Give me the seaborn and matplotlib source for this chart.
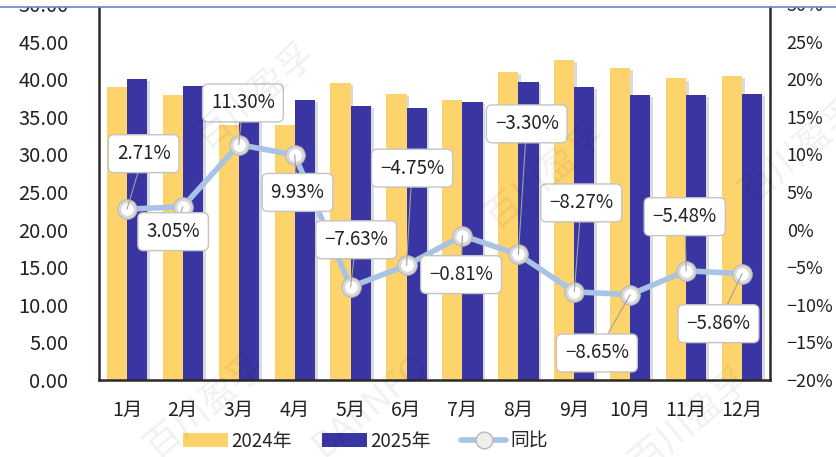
import numpy as np
import pandas as pd
import matplotlib
matplotlib.use("Agg")
import matplotlib.pyplot as plt
import matplotlib.patheffects as pe
from matplotlib.patches import Patch, Rectangle
from matplotlib.lines import Line2D
import seaborn as sns

months = ["1月", "2月", "3月", "4月", "5月", "6月", "7月", "8月", "9月", "10月", "11月", "12月"]
years = ["2024年", "2025年"]
v2024 = [39.0, 37.9, 33.9, 33.9, 39.5, 38.0, 37.3, 41.0, 42.5, 41.5, 40.1, 40.4]
v2025 = [40.06, 39.06, 37.7, 37.2, 36.5, 36.2, 37.0, 39.65, 38.99, 37.9, 37.9, 38.03]
yoy = [2.71, 3.05, 11.30, 9.93, -7.63, -4.75, -0.81, -3.30, -8.27, -8.65, -5.48, -5.86]
yoy_name = "同比"
left_ticks = [0, 5, 10, 15, 20, 25, 30, 35, 40, 45, 50]
right_ticks = [-20, -15, -10, -5, 0, 5, 10, 15, 20, 25, 30]

sns.set_theme(style="white")
plt.rcParams["font.family"] = ["Noto Sans CJK SC", "DejaVu Sans"]
plt.rcParams["axes.unicode_minus"] = True

C24 = "#FDD36C"
C25 = "#3936A3"
CLINE = "#A8C3E6"

df = pd.DataFrame({
    "月份": months * 2,
    "年份": [years[0]] * 12 + [years[1]] * 12,
    "值": v2024 + v2025,
})

W, H = 837, 457
fig = plt.figure(figsize=(W / 100, H / 100), dpi=100)
ax = fig.add_axes([99 / W, (H - 380) / H, (770 - 99) / W, (380 - 4) / H])

sns.barplot(data=df, x="月份", y="值", hue="年份", order=months, hue_order=years,
            palette=[C24, C25], width=0.72, gap=0, saturation=1, ax=ax, legend=False,
            errorbar=None)
for p in ax.patches:
    p.set_path_effects([pe.SimplePatchShadow(offset=(2, -1.5), shadow_rgbFace="#888888", alpha=0.3),
                        pe.Normal()])
    p.set_edgecolor("none")

ax.set_ylim(0, 50)
ax.set_xlim(-0.5, 11.5)
ax.set_yticks(left_ticks)
ax.set_yticklabels([f"{t:.2f}" for t in left_ticks])
ax.set_xlabel("")
ax.set_ylabel("")
ax.tick_params(axis="y", length=0, pad=22, labelsize=14.5, labelcolor="#222222")
ax.tick_params(axis="x", length=0, pad=14, labelsize=14, labelcolor="#222222")
for s in ["left", "bottom", "right"]:
    ax.spines[s].set_visible(True)
    ax.spines[s].set_color("#2a2a2a")
    ax.spines[s].set_linewidth(1.8)
ax.spines["top"].set_visible(False)

ax2 = ax.twinx()
xs = np.arange(len(months))
ax2.plot(xs, yoy, color=CLINE, lw=4, zorder=3, solid_capstyle="round")
ax2.plot(xs, yoy, ls="none", marker="o", ms=14, mfc="#d8d8d8", mec="#b8b8b8", mew=0.8, zorder=4)
ax2.plot(xs, yoy, ls="none", marker="o", ms=9, mfc="#ffffff", mec="none", zorder=5)
ax2.set_ylim(-20, 30)
ax2.set_yticks(right_ticks)
ax2.set_yticklabels([f"{t}%".replace("-", "\u2212") for t in right_ticks])
ax2.tick_params(axis="y", length=0, pad=12, labelsize=13, labelcolor="#222222")
for s in ax2.spines.values():
    s.set_visible(False)
ax2.grid(False)
ax.grid(False)

offsets = [(12, 40), (-7, -18), (3, 30), (2, -27), (4, 34), (4, 70),
           (-1, -28), (6, 94), (5, 64), (-24, -42), (-1, 39), (-17, -36)]
for x, v, off in zip(xs, yoy, offsets):
    txt = f"{v:.2f}%".replace("-", "\u2212")
    ax2.annotate(txt, xy=(x, v), xytext=off, textcoords="offset points",
                 ha="center", va="center", fontsize=13.5, color="#222222", zorder=6,
                 bbox=dict(boxstyle="round,pad=0.45,rounding_size=0.3", fc="white", ec="#c4c4c4", lw=1),
                 arrowprops=dict(arrowstyle="-", color="#a0a0a0", lw=0.8, shrinkA=0, shrinkB=0))

# watermarks
for (wx, wy, t) in [(255, 95, "百川盈孚"), (545, 175, "百川盈孚"), (205, 405, "百川盈孚"),
                    (370, 405, "BAIINFO"), (690, 420, "百川盈孚"), (800, 150, "百川盈孚")]:
    fig.text(wx / W, 1 - wy / H, t, fontsize=26, color="#000000", alpha=0.06,
             rotation=40, ha="center", va="center", zorder=8)

handles = [Patch(fc=C24, ec="none"), Patch(fc=C25, ec="none"),
           Line2D([0], [0], color=CLINE, lw=4, marker="o", ms=12, mfc="#eeeeee", mec="#b8b8b8")]
fig.legend(handles, years + [yoy_name], loc="center", bbox_to_anchor=(365 / W, 1 - 441 / H),
           ncol=3, frameon=False, fontsize=13.5, handlelength=2.4, handleheight=0.7,
           columnspacing=1.6, handletextpad=0.2)

# page crop mask + header line
fig.patches.append(Rectangle((0, 1 - 7 / H), 1, 7 / H, transform=fig.transFigure,
                             fc="white", ec="none", zorder=20))
fig.lines.append(Line2D([0, 1], [1 - 7 / H, 1 - 7 / H], transform=fig.transFigure,
                        color="#5C8DC8", lw=1.2, zorder=21))

fig.savefig("out.png", dpi=100)
